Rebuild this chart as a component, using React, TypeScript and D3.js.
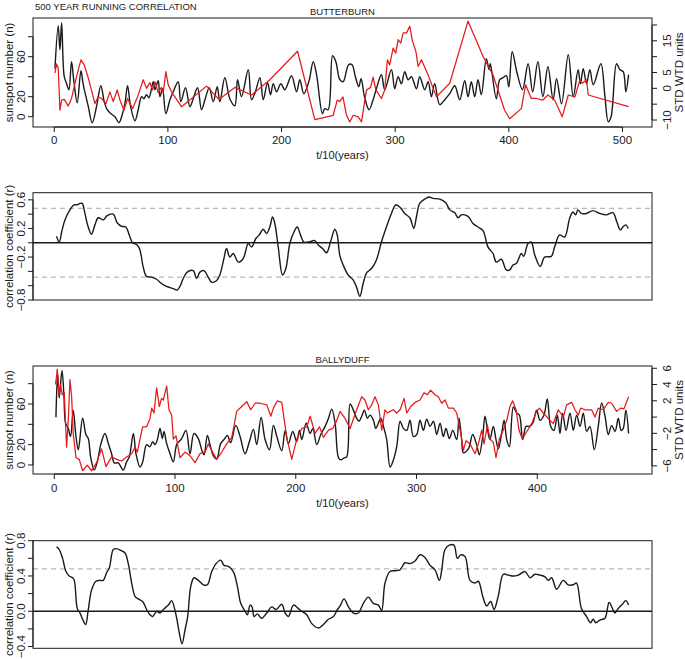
import React from "react";
import * as d3 from "d3";

// ---------- DATA ----------
const xTicksTop = [0, 100, 200, 300, 400, 500];
const xTicksBottom = [0, 100, 200, 300, 400];

// Butterburn: sunspot number (left axis)
const butterburnSunspots: [number, number][] = [
  [0.6,48],[3.5,91],[5,67],[6.5,94],[8.8,40],[10.9,33],[12.9,27],[15.2,55],[17.3,35],[20.2,14],[23.5,46],[25.5,32],[27.9,20],[30,10],[33.4,-6],[37.2,10],[41,31],[44,15],[46.6,7],[49.9,3],[53.4,0],[56.9,-6],[59.8,2],[62.2,13],[64.5,31],[67.2,10],[71,-4],[73.9,7],[76.8,20],[78.9,18],[81.2,22],[83.3,19],[87.1,35],[88.6,27],[91.5,36],[93,20],[95.3,28],[98.2,3],[101.8,17],[104.7,25],[109.1,35],[111.4,15],[115.5,29],[119.4,10],[122.3,18],[126.1,29],[129.6,7],[132.6,17],[136.4,29],[139.9,15],[143.4,30],[145.7,15],[150.1,39],[154.5,18],[158.9,11],[161.3,37],[164.8,20],[170.7,47],[173.6,17],[177,25],[181,39],[183.9,17],[187.7,34],[190.3,22],[192.7,33],[195.6,25],[199.4,33],[202.9,27],[208.8,41],[213.2,25],[216.1,37],[219.6,23],[224,35],[227.9,55],[230.8,42],[236,3],[238,8],[241,7],[244.9,61],[247.8,55],[251.3,37],[254.2,35],[259,52],[262,52],[265,40],[268,30],[270,38],[273,20],[277,7],[280.6,17],[283.5,28],[287.9,42],[290.8,27],[296.7,47],[299.6,28],[302.6,40],[305.5,33],[308.4,45],[311.4,37],[314.3,40],[318.7,28],[321.6,40],[326,27],[329,35],[331.9,20],[334.8,33],[339.2,12],[343.6,17],[348,23],[352.4,31],[356.8,17],[361.2,36],[364.1,20],[367,35],[370,20],[372.9,37],[375.8,22],[380.2,58],[382.6,47],[383.7,53],[389,18],[392,37],[395,39],[397.8,41],[400,30],[403,65],[407,45],[412,27],[417,53],[421,25],[425.6,55],[430,20],[434.4,50],[439,17],[442,38],[446.4,13],[452.3,62],[456.7,20],[461,47],[463,33],[465.5,48],[468.4,33],[471.3,47],[474.3,32],[481,53],[484.6,20],[487.5,-5],[490,0],[494.8,53],[497.8,47],[500.7,45],[503,25],[505.4,42]
];

// Butterburn: standardised weighted tree-ring index (right axis)
const butterburnStd: [number, number][] = [
  [0.6,4.8],[2,7.7],[3.5,6.4],[5,-6.9],[6.5,-3.7],[8.8,-3.5],[12.3,-5.6],[15.2,-3.2],[19.6,3.7],[23.5,9],[26.4,7.4],[30,3.2],[35.8,-4.8],[38.7,-2.7],[41.6,-3.2],[45.5,-4.8],[49,-1.1],[51.9,-4.2],[55.4,-0.5],[57.8,-3.7],[61.3,-6.9],[64.5,-3.2],[68.9,-6.4],[73.3,-2.7],[78.3,2.7],[81.2,0],[84.2,1.8],[86.5,-0.5],[88.6,2.1],[91.5,-1.4],[94.4,0.3],[95.9,-1.4],[98.2,5.3],[100.3,1.1],[103.2,-1.1],[112,-5.8],[134,0.7],[144.9,-3.5],[158.9,0.3],[173.6,-2.1],[189.7,2.7],[214.1,11.7],[229.3,-9.9],[245.5,-8.5],[249,-3.7],[251.3,-4.2],[254,-2.7],[257.2,-8.5],[260,-10.6],[263.1,-8.5],[267.4,-9],[270.4,-10.6],[273.3,-3.7],[274.8,-0.5],[278.3,0.3],[280.6,3.5],[283,-0.5],[287.9,-3.2],[290.8,-0.5],[293.2,9],[295.2,7.4],[298.2,12.7],[300.5,11.1],[302.6,15.4],[304.9,14.3],[307,17.5],[310,17.5],[312.9,19.6],[315.2,14.9],[318.2,11.7],[320.2,6.9],[323.1,9],[329,4.2],[336.3,-2.7],[348,1.6],[364.1,21.2],[377.3,10.1],[386.1,4.2],[396.3,-6.9],[400.8,-9.6],[411,-6.4],[414.8,1.1],[419.8,-3.2],[424.2,-3.2],[430,-3.7],[434.4,-2.1],[440.3,-3.7],[447,-9],[452.3,-2.1],[458.2,-2.7],[462.6,2.7],[464.6,1.6],[468.4,2.7],[469.9,-2.1],[505.4,-5.8]
];

// Butterburn: running correlation coefficient
const butterburnCorr: [number, number][] = [
  [2,0.09],[4.4,0.01],[6.5,0.15],[9.4,0.32],[13.8,0.46],[17.3,0.53],[20.2,0.53],[22.6,0.55],[24.6,0.55],[27,0.41],[29.9,0.22],[32.8,0.12],[35.8,0.25],[38.7,0.35],[43.1,0.32],[46.6,0.38],[51.9,0.4],[55.4,0.28],[59.2,0.23],[63,0.22],[66,0.11],[68.9,0],[73,-0.03],[75.4,-0.1],[78.3,-0.34],[81.2,-0.47],[85.6,-0.48],[90,-0.51],[94.4,-0.57],[98.8,-0.61],[104.7,-0.64],[108.2,-0.66],[110.6,-0.61],[113.5,-0.5],[117,-0.41],[122.3,-0.39],[125.2,-0.5],[128.2,-0.41],[131.7,-0.39],[135.5,-0.48],[138.4,-0.55],[142.8,-0.53],[145.7,-0.45],[149.3,-0.22],[151.6,-0.08],[154.5,-0.2],[157.5,-0.15],[161.9,-0.27],[166.3,-0.22],[170.7,-0.01],[173.6,-0.06],[177.4,0.06],[180.4,0.11],[183.9,0.19],[186.8,0.13],[189.7,0.22],[192.1,0.36],[194.1,0.27],[197.1,-0.06],[200.9,-0.45],[203.8,-0.36],[207.3,-0.01],[210.9,0.15],[213.8,0.22],[216.7,0.11],[219.6,0.01],[223.5,0.01],[229.3,0.03],[232.3,-0.03],[236.1,-0.08],[239.6,-0.14],[243.1,0.01],[246.9,0.19],[249,0.11],[251.3,-0.18],[254.2,-0.31],[258.6,-0.45],[263,-0.52],[266,-0.62],[268.9,-0.75],[271.8,-0.57],[274.8,-0.42],[279.2,-0.36],[283.5,-0.24],[287.9,0.01],[292.3,0.22],[296.7,0.41],[300.5,0.53],[304,0.5],[308.4,0.41],[312.9,0.35],[316.4,0.2],[318.7,0.36],[321.6,0.55],[326,0.61],[329.8,0.64],[333.4,0.62],[339.2,0.61],[344.5,0.56],[348,0.46],[352.4,0.42],[355.3,0.35],[358.3,0.39],[364.1,0.37],[368.5,0.27],[372.9,0.22],[377.3,0.17],[381.7,-0.06],[386.1,-0.15],[389,-0.27],[393.4,-0.23],[397.8,-0.38],[400.8,-0.38],[403.7,-0.31],[406.6,-0.29],[411,-0.15],[413.1,-0.19],[416.9,-0.01],[419.8,0.01],[422.8,-0.17],[427.7,-0.33],[431.5,-0.2],[437.4,-0.19],[440.3,-0.06],[444.7,0.11],[449.1,0.08],[453.5,0.34],[456.4,0.43],[458.8,0.39],[460.8,0.46],[463.8,0.41],[468.2,0.41],[474,0.45],[479.9,0.41],[485.8,0.39],[491.6,0.42],[495.1,0.29],[498.1,0.18],[500.4,0.22],[502.8,0.25],[505.1,0.2]
];

// Ballyduff: sunspot number (left axis)
const ballyduffSunspots: [number, number][] = [
  [1.4,47],[2.8,90],[4.1,66],[6.4,93],[8,69],[9.4,41],[11.6,36],[13.5,28],[15.7,54],[18,28],[19.9,15],[23.5,46],[26.2,30],[28.2,26],[30.1,8],[33.1,-5],[35.6,3],[38.7,21],[42,31],[44.8,21],[47.5,11],[49.7,2],[53,2],[57.2,-5],[59.9,3],[62.2,8],[65.5,31],[67.7,11],[71,-2],[73.2,3],[76.5,20],[79.3,18],[81.5,23],[83.4,20],[85.4,25],[87.6,36],[89.5,26],[90.9,33],[93.1,21],[95.9,11],[98.6,3],[101.4,20],[105.5,26],[109.1,34],[112.4,11],[115.7,31],[119.3,26],[122.1,15],[124,10],[126.8,29],[129,20],[131.8,9],[134.5,6],[137.8,21],[140.6,25],[143.4,29],[146.1,22],[150.3,39],[153.9,28],[158,11],[161.6,23],[164.9,35],[167.7,20],[171.3,47],[174.6,25],[178.2,15],[181.5,39],[184.3,28],[188.4,14],[191.2,34],[193.9,21],[197.5,33],[200.8,23],[203,34],[205,25],[208.6,41],[211.9,31],[214.1,36],[217.4,20],[220.7,30],[224.3,38],[227.1,46],[229.8,55],[232.6,41],[235.4,7],[237.5,5],[240,7],[242.2,8],[245,60],[247.7,54],[250.4,46],[252.4,43],[254.6,48],[256.8,54],[259.3,46],[261.5,49],[264.3,44],[266.2,36],[268.4,41],[270.4,46],[272.6,38],[275.3,25],[278.1,-2],[280.3,3],[283.6,18],[286.4,43],[289.1,36],[291.9,34],[294.6,44],[297.4,28],[300.2,30],[302.9,44],[305.7,34],[308.4,45],[311.2,38],[314,43],[316.7,30],[319.5,41],[322.2,28],[324.4,36],[327.2,26],[330,34],[333.3,25],[335.2,46],[337.4,25],[338.8,12],[343,16],[346.5,30],[349.8,20],[352,10],[354.8,28],[356.7,48],[358.9,34],[360.8,25],[363.6,38],[365.8,25],[367.8,16],[370.5,31],[372.5,44],[374.7,25],[376.9,18],[380.2,57],[383,51],[385.2,49],[387.9,25],[390.7,38],[393.4,38],[396.2,41],[399.5,54],[402.2,44],[405.5,49],[408.3,65],[411.1,38],[413.8,34],[416.6,49],[418.8,31],[421,51],[423.8,34],[427.1,51],[429.8,34],[432.6,49],[435.4,38],[438.1,51],[440.9,33],[443.6,38],[447.2,15],[450.5,38],[453.3,61],[456.1,48],[458.8,30],[461.6,39],[464.4,33],[467.1,46],[469.4,34],[471.2,36],[473.4,54],[475.6,31]
];

// Ballyduff: standardised weighted tree-ring index (right axis)
const ballyduffStd: [number, number][] = [
  [1.1,4],[2.5,5.9],[3.9,2.75],[5.2,4],[6.6,2.75],[8.3,3],[10.2,-3.7],[11.6,-0.4],[13,4.6],[14.4,2.5],[15.7,-2],[18,-5],[20.7,-5.2],[23.5,-6.6],[27.3,-5.9],[30.9,-6.6],[35.1,-5.6],[39.2,-3.9],[42.8,-6.1],[47.5,-4.9],[51.7,-5.2],[55.8,-5.4],[59.9,-4.9],[64.1,-4.5],[66.9,-3.7],[68.8,-4.3],[71,-2.7],[73.2,-1.2],[76.5,-1.2],[79.3,-0.2],[80.7,1.1],[82.6,0.5],[84.8,3.6],[87,1.3],[88.9,2.3],[90.3,2.1],[93.1,3.8],[95,0.9],[97.2,0.25],[98.6,-2.7],[100.8,-2.3],[104.1,-5],[108.3,-4.3],[112.4,-4.75],[116.6,-5.6],[120.7,-4.5],[124.9,-4.3],[127.6,-3.3],[131.8,-4.5],[134.5,-5.2],[138.7,-4.3],[142.8,-3.3],[147,-2.5],[151.1,0.7],[155.2,1.3],[159.4,1.9],[162.7,0.9],[166.3,1.7],[170.4,1.7],[176,1.5],[179.3,0.1],[181.5,1.1],[184.8,2],[188.4,1.8],[192.5,-2.5],[196.7,-5.2],[200.8,-2.7],[205,-1.4],[209.1,-1.2],[211.9,0.1],[216,-2],[219.6,-1.2],[222.9,-2.5],[227.1,-1.6],[230.7,-1.4],[233.4,-0.6],[236.7,0.7],[240.9,-0.2],[245,-1.4],[250.4,0.9],[254.6,2.5],[257.3,2.1],[260.1,0.9],[262.9,1.5],[265.6,2.5],[268.4,1.5],[271.2,-1.6],[273.9,0.9],[275.8,0.5],[278.1,0.7],[280.8,0.9],[283.6,0.5],[286.4,0.9],[289.7,2.3],[291.9,0.5],[295.2,1.3],[298.8,1.8],[302.9,2.1],[306.2,3],[309,2.75],[311.7,3.3],[315.3,2.75],[318.1,2.5],[320.8,1.7],[323.6,2.1],[326.4,1.1],[330.5,1.1],[333.3,0.5],[336.6,-2],[338.8,-4.1],[341,-2.9],[344.3,-3.3],[348.5,-4.5],[351.2,-3.3],[354,-1.6],[355.9,-3.3],[358.7,-1],[360.8,-2.7],[363.6,-3.1],[365.8,-5],[368.6,-2.7],[371.9,-1.6],[374.7,-0.4],[377.4,1.3],[379.6,2],[382.4,0.9],[384.9,-1.6],[387.6,-2.7],[391.2,-1.8],[395.4,-0.8],[399.5,0.7],[401.7,1.1],[405,0.5],[409.2,-0.2],[413.3,-0.8],[417.4,0.9],[421.6,0],[424.3,1.5],[428.5,1.8],[431.2,0.9],[434,0.25],[435.9,1.1],[439.5,0.9],[442.2,0.9],[445,0.9],[447.8,0],[450.5,1.1],[454.6,0.9],[458.8,1.8],[461.6,1.7],[465.7,0.7],[469,1.1],[471.7,1],[475.6,2.5]
];

// Ballyduff: running correlation coefficient
const ballyduffCorr: [number, number][] = [
  [1.9,0.73],[4.1,0.7],[6.9,0.6],[9.7,0.45],[12.4,0.4],[15.2,0.38],[16.6,0.35],[19.1,0.03],[21.3,-0.02],[23.5,-0.09],[26,-0.15],[28.2,0.02],[30.9,0.24],[34.5,0.34],[37.8,0.35],[40.6,0.35],[43.4,0.44],[45.6,0.49],[48.9,0.7],[51.7,0.71],[55,0.69],[58.6,0.66],[61.3,0.54],[64.1,0.32],[66.9,0.17],[69.6,0.14],[73.2,0.11],[76.5,0.02],[79.3,-0.04],[81.5,-0.06],[84.8,0],[87.6,-0.02],[90.3,0.02],[94.5,0.07],[97.2,0.12],[100.8,-0.04],[103.6,-0.25],[105.8,-0.37],[108.3,-0.21],[110.5,-0.06],[113,0.28],[115.7,0.38],[119.3,0.35],[123.5,0.3],[126.8,0.3],[130.4,0.45],[134,0.54],[137.8,0.58],[140.6,0.52],[144.2,0.51],[148.3,0.45],[151.7,0.28],[154.4,0.09],[158,0],[159.9,-0.04],[162.2,0.07],[163.8,0.05],[165.5,-0.06],[168.2,-0.03],[171.8,-0.08],[176,-0.02],[180.1,0.05],[183.7,0.02],[188.4,0.08],[191.2,-0.02],[193.9,-0.06],[198.1,0.07],[202.2,0.03],[205,0],[209.1,-0.04],[213.3,-0.14],[218.8,-0.19],[222.9,-0.15],[227.1,-0.09],[231.2,-0.06],[234.5,0.02],[236.7,0.06],[240,0.14],[243.6,0.05],[247.7,-0.02],[251.8,-0.02],[256,0.09],[260.1,0.16],[264.2,0.09],[268.4,0.07],[271.1,0.01],[273.9,0.32],[278,0.45],[282.2,0.46],[286.3,0.47],[290.4,0.55],[294.6,0.54],[298.7,0.57],[302.9,0.64],[307,0.61],[311.2,0.52],[315.3,0.47],[318.9,0.35],[320.8,0.46],[323.6,0.7],[327.2,0.75],[331,0.75],[333.8,0.6],[336.6,0.64],[340.2,0.62],[344.3,0.35],[348.5,0.32],[351.2,0.34],[354.8,0.17],[358.1,0.06],[361.4,0.11],[364.2,0.02],[367.8,0.18],[371.9,0.42],[376.1,0.41],[380.2,0.4],[384.3,0.41],[389.8,0.45],[394,0.38],[398.1,0.42],[402.2,0.41],[406.4,0.39],[409.1,0.35],[411.9,0.38],[416,0.25],[421.5,0.35],[425.6,0.3],[429.8,0.3],[432.5,0.32],[436.6,0.03],[440.8,-0.06],[444.1,-0.13],[446.3,-0.09],[448.5,-0.13],[451.8,-0.1],[456,-0.08],[459.5,0.1],[462.3,0.03],[464.2,-0.02],[467,0.03],[470.5,0.08],[473.3,0.12],[475.6,0.07]
];

const sigLevels = [0.48, -0.48];

// ---------- LAYOUT ----------
const W = 685;
const H = 659;
const L = 33;
const R = 652;
const FONT = "'Liberation Sans', Arial, Helvetica, sans-serif";
const RED = "#e41a1c";
const INK = "#1a1a1a";

const xTop = d3.scaleLinear().domain([-18.7, 526]).range([L, R]);
const xBottom = d3.scaleLinear().domain([-17.6, 495]).range([L, R]);

type Axis = { scale: d3.ScaleLinear<number, number>; ticks: number[]; labels: number[]; title: string };

function fmt(v: number, dec: number) {
  const s = v.toFixed(dec);
  return s.replace("-", "\u2212");
}

function LeftAxis({ ax, dec }: { ax: Axis; dec: number }) {
  const s = ax.scale;
  const [y0, y1] = d3.extent(ax.ticks.map((t) => s(t))) as [number, number];
  const [r0, r1] = s.range();
  return (
    <g>
      <line x1={L} x2={L} y1={y0} y2={y1} stroke={INK} />
      {ax.ticks.map((t) => (
        <line key={t} x1={L} x2={L - 5} y1={s(t)} y2={s(t)} stroke={INK} />
      ))}
      {ax.labels.map((t) => (
        <text key={t} transform={`translate(${21},${s(t)}) rotate(-90)`} textAnchor="middle" dominantBaseline="central" fontSize={11.5}>
          {fmt(t, dec)}
        </text>
      ))}
      <text transform={`translate(${9},${(r0 + r1) / 2}) rotate(-90)`} textAnchor="middle" dominantBaseline="central" fontSize={11.5}>
        {ax.title}
      </text>
    </g>
  );
}

function RightAxis({ ax }: { ax: Axis }) {
  const s = ax.scale;
  const [y0, y1] = d3.extent(ax.ticks.map((t) => s(t))) as [number, number];
  const [r0, r1] = s.range();
  return (
    <g>
      <line x1={R} x2={R} y1={y0} y2={y1} stroke={INK} />
      {ax.ticks.map((t) => (
        <line key={t} x1={R} x2={R + 5} y1={s(t)} y2={s(t)} stroke={INK} />
      ))}
      {ax.labels.map((t) => (
        <text key={t} transform={`translate(${667},${s(t)}) rotate(-90)`} textAnchor="middle" dominantBaseline="central" fontSize={11.5}>
          {fmt(t, 0)}
        </text>
      ))}
      <text transform={`translate(${679},${(r0 + r1) / 2}) rotate(-90)`} textAnchor="middle" dominantBaseline="central" fontSize={11.5}>
        {ax.title}
      </text>
    </g>
  );
}

function BottomAxis({ x, ticks, y, labelY, titleY }: { x: d3.ScaleLinear<number, number>; ticks: number[]; y: number; labelY: number; titleY: number }) {
  return (
    <g>
      <line x1={x(ticks[0])} x2={x(ticks[ticks.length - 1])} y1={y} y2={y} stroke={INK} />
      {ticks.map((t) => (
        <g key={t}>
          <line x1={x(t)} x2={x(t)} y1={y} y2={y + 5} stroke={INK} />
          <text x={x(t)} y={labelY} textAnchor="middle" fontSize={11.5}>
            {t}
          </text>
        </g>
      ))}
      <text x={(L + R) / 2} y={titleY} textAnchor="middle" fontSize={11}>
        t/10(years)
      </text>
    </g>
  );
}

function SeriesPanel({
  x, top, bottom, left, right, sun, std, name, nameY, xTicks, labelY, titleY,
}: {
  x: d3.ScaleLinear<number, number>; top: number; bottom: number; left: Axis; right: Axis;
  sun: [number, number][]; std: [number, number][]; name: string; nameY: number;
  xTicks: number[]; labelY: number; titleY: number;
}) {
  const lineSun = d3.line<[number, number]>().x((d) => x(d[0])).y((d) => left.scale(d[1])).curve(d3.curveCatmullRom.alpha(0.5));
  const lineStd = d3.line<[number, number]>().x((d) => x(d[0])).y((d) => right.scale(d[1]));
  const id = "clip-" + name;
  return (
    <g>
      <defs>
        <clipPath id={id}>
          <rect x={L} y={top} width={R - L} height={bottom - top} />
        </clipPath>
      </defs>
      <g clipPath={`url(#${id})`}>
        <path d={lineSun(sun) || ""} fill="none" stroke={INK} strokeWidth={1.4} strokeLinejoin="round" />
        <path d={lineStd(std) || ""} fill="none" stroke={RED} strokeWidth={1.25} strokeLinejoin="round" />
      </g>
      <rect x={L} y={top} width={R - L} height={bottom - top} fill="none" stroke={INK} />
      <text x={(L + R) / 2} y={nameY} textAnchor="middle" fontSize={9.5}>{name}</text>
      <LeftAxis ax={left} dec={0} />
      <RightAxis ax={right} />
      <BottomAxis x={x} ticks={xTicks} y={bottom} labelY={labelY} titleY={titleY} />
    </g>
  );
}

function CorrPanel({ x, top, bottom, ax, data, name, dec }: { x: d3.ScaleLinear<number, number>; top: number; bottom: number; ax: Axis; data: [number, number][]; name: string; dec: number }) {
  const y = ax.scale;
  const line = d3.line<[number, number]>().x((d) => x(d[0])).y((d) => y(d[1])).curve(d3.curveCatmullRom.alpha(0.5));
  const [dMin, dMax] = y.domain();
  const id = "clipc-" + name;
  return (
    <g>
      <defs>
        <clipPath id={id}>
          <rect x={L} y={top} width={R - L} height={bottom - top} />
        </clipPath>
      </defs>
      <g clipPath={`url(#${id})`}>
        {sigLevels.filter((s) => s > dMin && s < dMax).map((s) => (
          <line key={s} x1={L} x2={R} y1={y(s)} y2={y(s)} stroke="#b8b8b8" strokeWidth={1.2} strokeDasharray="5,4" />
        ))}
        <line x1={L} x2={R} y1={y(0)} y2={y(0)} stroke={INK} strokeWidth={1.3} />
        <path d={line(data) || ""} fill="none" stroke={INK} strokeWidth={1.4} strokeLinejoin="round" />
      </g>
      <rect x={L} y={top} width={R - L} height={bottom - top} fill="none" stroke={INK} />
      <LeftAxis ax={ax} dec={dec} />
    </g>
  );
}

export default function App() {
  // Panel 1
  const p1Top = 18, p1Bottom = 127;
  const p1Left: Axis = { scale: d3.scaleLinear().domain([-10.3, 98.7]).range([p1Bottom, p1Top]), ticks: [0, 20, 40, 60, 80], labels: [0, 20, 60], title: "sunspot number (n)" };
  const p1Right: Axis = { scale: d3.scaleLinear().domain([-12.2, 22.2]).range([p1Bottom, p1Top]), ticks: [-10, -5, 0, 5, 10, 15, 20], labels: [-10, 0, 5, 15], title: "STD WTD units" };
  // Panel 2
  const p2Top = 192.7, p2Bottom = 300;
  const p2Axis: Axis = { scale: d3.scaleLinear().domain([-0.8, 0.7]).range([p2Bottom, p2Top]), ticks: [-0.8, -0.6, -0.4, -0.2, 0, 0.2, 0.4, 0.6], labels: [-0.8, -0.2, 0.2, 0.6], title: "correlation coefficient (r)" };
  // Panel 3
  const p3Top = 366, p3Bottom = 474;
  const p3Left: Axis = { scale: d3.scaleLinear().domain([-8.9, 97.4]).range([p3Bottom, p3Top]), ticks: [0, 20, 40, 60, 80], labels: [0, 20, 60], title: "sunspot number (n)" };
  const p3Right: Axis = { scale: d3.scaleLinear().domain([-7.0, 6.28]).range([p3Bottom, p3Top]), ticks: [-6, -4, -2, 0, 2, 4, 6], labels: [-6, -2, 2, 4, 6], title: "STD WTD units" };
  // Panel 4
  const p4Top = 540.7, p4Bottom = 648.3;
  const p4Axis: Axis = { scale: d3.scaleLinear().domain([-0.42, 0.8]).range([p4Bottom, p4Top]), ticks: [-0.4, -0.2, 0, 0.2, 0.4, 0.6, 0.8], labels: [-0.4, 0, 0.4, 0.8], title: "correlation coefficient (r)" };

  return (
    <svg width={W} height={H} viewBox={`0 0 ${W} ${H}`} style={{ position: "absolute", left: 0, top: 0, background: "#fff" }} fontFamily={FONT} fill={INK}>
      <rect x={0} y={0} width={W} height={H} fill="#fff" />
      <text x={35} y={10} fontSize={9.5}>500 YEAR RUNNING CORRELATION</text>
      <SeriesPanel x={xTop} top={p1Top} bottom={p1Bottom} left={p1Left} right={p1Right} sun={butterburnSunspots} std={butterburnStd} name="BUTTERBURN" nameY={15} xTicks={xTicksTop} labelY={144} titleY={159} />
      <CorrPanel x={xTop} top={p2Top} bottom={p2Bottom} ax={p2Axis} data={butterburnCorr} name="BUTTERBURN" dec={1} />
      <SeriesPanel x={xBottom} top={p3Top} bottom={p3Bottom} left={p3Left} right={p3Right} sun={ballyduffSunspots} std={ballyduffStd} name="BALLYDUFF" nameY={363} xTicks={xTicksBottom} labelY={492} titleY={507} />
      <CorrPanel x={xBottom} top={p4Top} bottom={p4Bottom} ax={p4Axis} data={ballyduffCorr} name="BALLYDUFF" dec={1} />
    </svg>
  );
}
